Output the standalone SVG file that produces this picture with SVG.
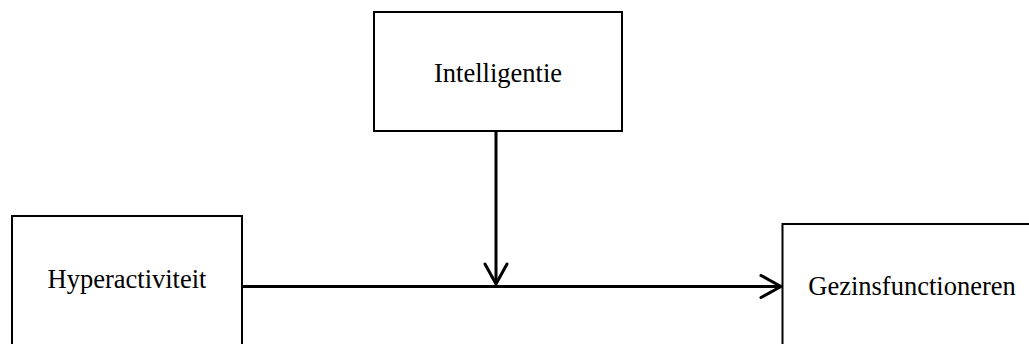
<svg xmlns="http://www.w3.org/2000/svg" width="1029" height="344" viewBox="0 0 1029 344">
  <style>
    .box { fill: #ffffff; stroke: #000000; stroke-width: 2; }
    .lbl { font-family: "Liberation Serif", "Times New Roman", serif; font-size: 26.5px; fill: #000000; text-anchor: middle; }
    .conn { stroke: #000000; stroke-width: 3; fill: none; }
  </style>
  <defs>
    <marker id="arrow" viewBox="0 0 24 26" refX="22" refY="13" markerWidth="24" markerHeight="26" markerUnits="userSpaceOnUse" orient="auto">
      <path d="M2,2 L22,13 L2,24" fill="none" stroke="#000000" stroke-width="3" stroke-linejoin="round" stroke-linecap="round"/>
    </marker>
  </defs>
  <rect width="1029" height="344" fill="#ffffff"/>
  <g id="node-intelligentie">
    <rect class="box" x="374" y="12" width="248" height="119"/>
    <text class="lbl" x="498" y="82">Intelligentie</text>
  </g>
  <g id="node-hyperactiviteit">
    <rect class="box" x="12" y="216" width="230" height="160"/>
    <text class="lbl" x="127" y="288">Hyperactiviteit</text>
  </g>
  <g id="node-gezinsfunctioneren">
    <rect class="box" x="782.5" y="224" width="300" height="160"/>
    <text class="lbl" x="912" y="295">Gezinsfunctioneren</text>
  </g>
  <g id="connectors">
    <line class="conn" x1="242" y1="286.5" x2="781" y2="286.5" marker-end="url(#arrow)"/>
    <line class="conn" x1="496" y1="131" x2="496" y2="284" marker-end="url(#arrow)"/>
  </g>
</svg>
